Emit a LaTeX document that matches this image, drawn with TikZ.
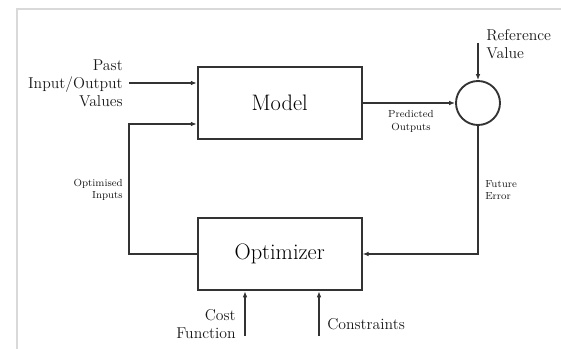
\documentclass[tikz,border=0pt]{standalone}
\usetikzlibrary{arrows.meta}
\begin{document}
\begin{tikzpicture}[x=0.75pt,y=-0.75pt,
  conn/.style={draw=black!80, line width=1.3pt},
  arr/.style={conn,-{Latex[length=4.5pt,width=3.5pt]}},
  block/.style={draw=black!80, line width=1.4pt, minimum width=123pt,
    minimum height=54.5pt, inner sep=0pt, font=\fontsize{16.8}{19}\selectfont},
  junction/.style={circle, draw=black!80, line width=1.4pt, minimum size=33pt, inner sep=0pt},
  lbl/.style={font=\fontsize{11.8}{13.6}\selectfont, inner sep=0pt, text=black!90},
  small/.style={font=\fontsize{7.7}{9.5}\selectfont, inner sep=0pt, text=black!90}]
\useasboundingbox (0,0) rectangle (561,349);
% page frame
\draw[black!15, line width=1.5pt] (16.7,349) -- (16.7,9) -- (561,9);

% blocks
\node[block] (model) at (279.7,103) {Model};
\node[block] (opt) at (279.7,254) {Optimizer};
\node[junction] (sum) at (478,103) {};

% free ends of the input arrows
\coordinate (pastin) at (129,83);
\coordinate (refin) at (478,43);
\coordinate (fbk) at (129,124);
\coordinate (costin) at (245,336);
\coordinate (consin) at (319,336);

% connectors
\draw[arr] (pastin) -- (pastin -| model.west);
\draw[arr] (model.east) -- (sum.west);
\draw[arr] (refin) -- (sum.north);
\draw[arr] (sum.south) |- (opt.east);
\draw[arr] (opt.west) -| (fbk) -- (fbk -| model.west);
\draw[arr] (costin) -- (costin |- opt.south);
\draw[arr] (consin) -- (consin |- opt.south);

% labels
\node[lbl, align=right, anchor=east] (lpast) at (123,83.5) {Past\\Input/Output\\Values};
\node[lbl, align=left, anchor=west] (lref) at (486,44) {Reference\\Value};
\node[small, align=center] (lpred) at (411,121.5) {Predicted\\Outputs};
\node[small, align=left, anchor=west] (lerr) at (485,190) {Future\\Error};
\node[small, align=right, anchor=east] (lopt) at (123,190) {Optimised\\Inputs};
\node[lbl, align=right, anchor=east] (lcost) at (236,324) {Cost\\Function};
\node[lbl, align=left, anchor=west] (lcons) at (327,324) {Constraints};
\end{tikzpicture}
\end{document}
